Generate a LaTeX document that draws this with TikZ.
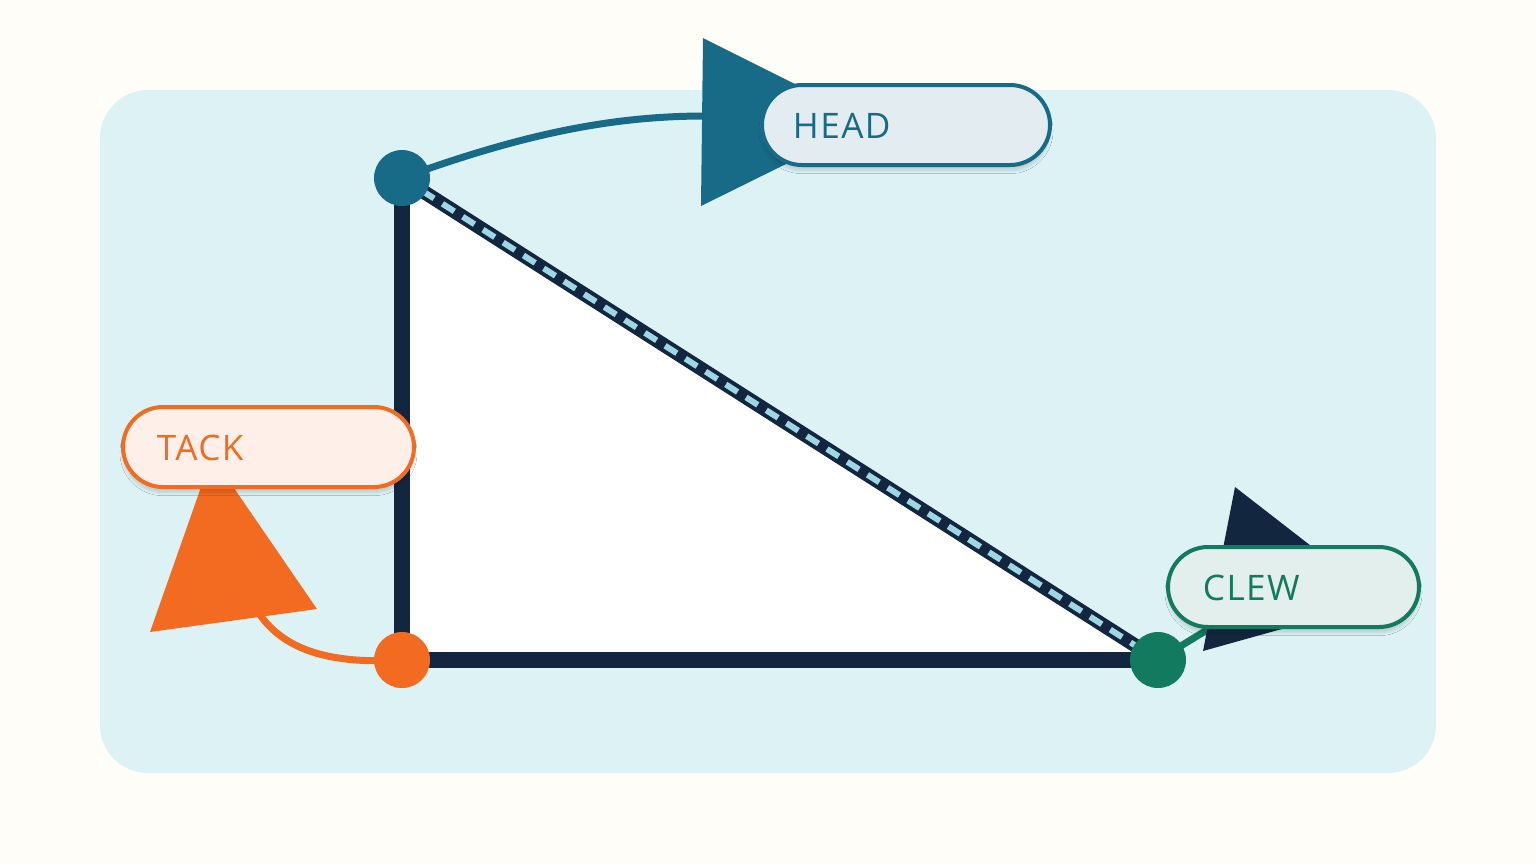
\documentclass[tikz,border=0pt]{standalone}
\usepackage{fontspec}
\setmainfont{Open Sans}
\usetikzlibrary{shadows.blur}
\definecolor{cream}{HTML}{FEFDF8}
\definecolor{panel}{HTML}{DCF2F5}
\definecolor{navy}{HTML}{12263F}
\definecolor{teal}{HTML}{176B87}
\definecolor{orng}{HTML}{F26B21}
\definecolor{grn}{HTML}{127A5E}
\definecolor{dashc}{HTML}{9ED6E3}
\begin{document}
\begin{tikzpicture}[x=0.025cm,y=-0.025cm,
  dot/.style={circle,minimum size=56*0.025cm,inner sep=0pt},
  pill/.style={rounded corners=40*0.025cm,line width=4*0.025cm,blur shadow={shadow blur steps=6,shadow xshift=0pt,shadow yshift=-4pt,shadow opacity=15}},
  lbl/.style={anchor=west,font=\fontsize{25}{25}\selectfont\addfontfeature{LetterSpace=4}}]
\fill[cream] (0,0) rectangle (1536,864);
\useasboundingbox (0,0) rectangle (1536,864);
\fill[panel,rounded corners=48*0.025cm] (100,90) rectangle (1436,773);
% triangle
\coordinate (H) at (402,178); \coordinate (T) at (402,660); \coordinate (C) at (1158,660);
\fill[white] (H) -- (T) -- (C) -- cycle;
\draw[navy,line width=16*0.025cm] (H) -- (T) -- (C);
\draw[navy,line width=14*0.025cm] (H) -- (C);
\draw[dashc,line width=6*0.025cm,dash pattern=on 14*0.025cm off 10*0.025cm] (H) -- (C);
% head arrow
\coordinate (hb) at (705,116);
\draw[teal,line width=7*0.025cm] (H) .. controls (520,135) and (610,116) .. (hb);
\fill[teal] (703,38) -- (871,122) -- (701,206) -- cycle;
% tack arrow
\coordinate (tb) at (258,612);
\draw[orng,line width=7*0.025cm] (T) .. controls (320,665) and (280,645) .. (tb);
\fill[orng] (150,632) -- (212,456) -- (317,609) -- cycle;
% clew arrow
\coordinate (cb) at (1215,625);
\draw[grn,line width=7*0.025cm] (C) -- (cb);
\fill[navy] (1235,487) -- (1382,601) -- (1203,651) -- cycle;
% dots
\node[dot,fill=teal] (head) at (H) {};
\node[dot,fill=orng] (tack) at (T) {};
\node[dot,fill=grn] (clew) at (C) {};
% labels
\draw[pill,draw=teal,fill=white!88!teal] (762,85) rectangle (1050,165);
\node[lbl,text=teal] (hl) at (788,126) {HEAD};
\draw[pill,draw=orng,fill=white!90!orng] (123,407) rectangle (414,487);
\node[lbl,text=orng] (tl) at (152,448) {TACK};
\draw[pill,draw=grn,fill=white!88!grn] (1168,547) rectangle (1419,627);
\node[lbl,text=grn] (cl) at (1198,588) {CLEW};
\end{tikzpicture}
\end{document}
